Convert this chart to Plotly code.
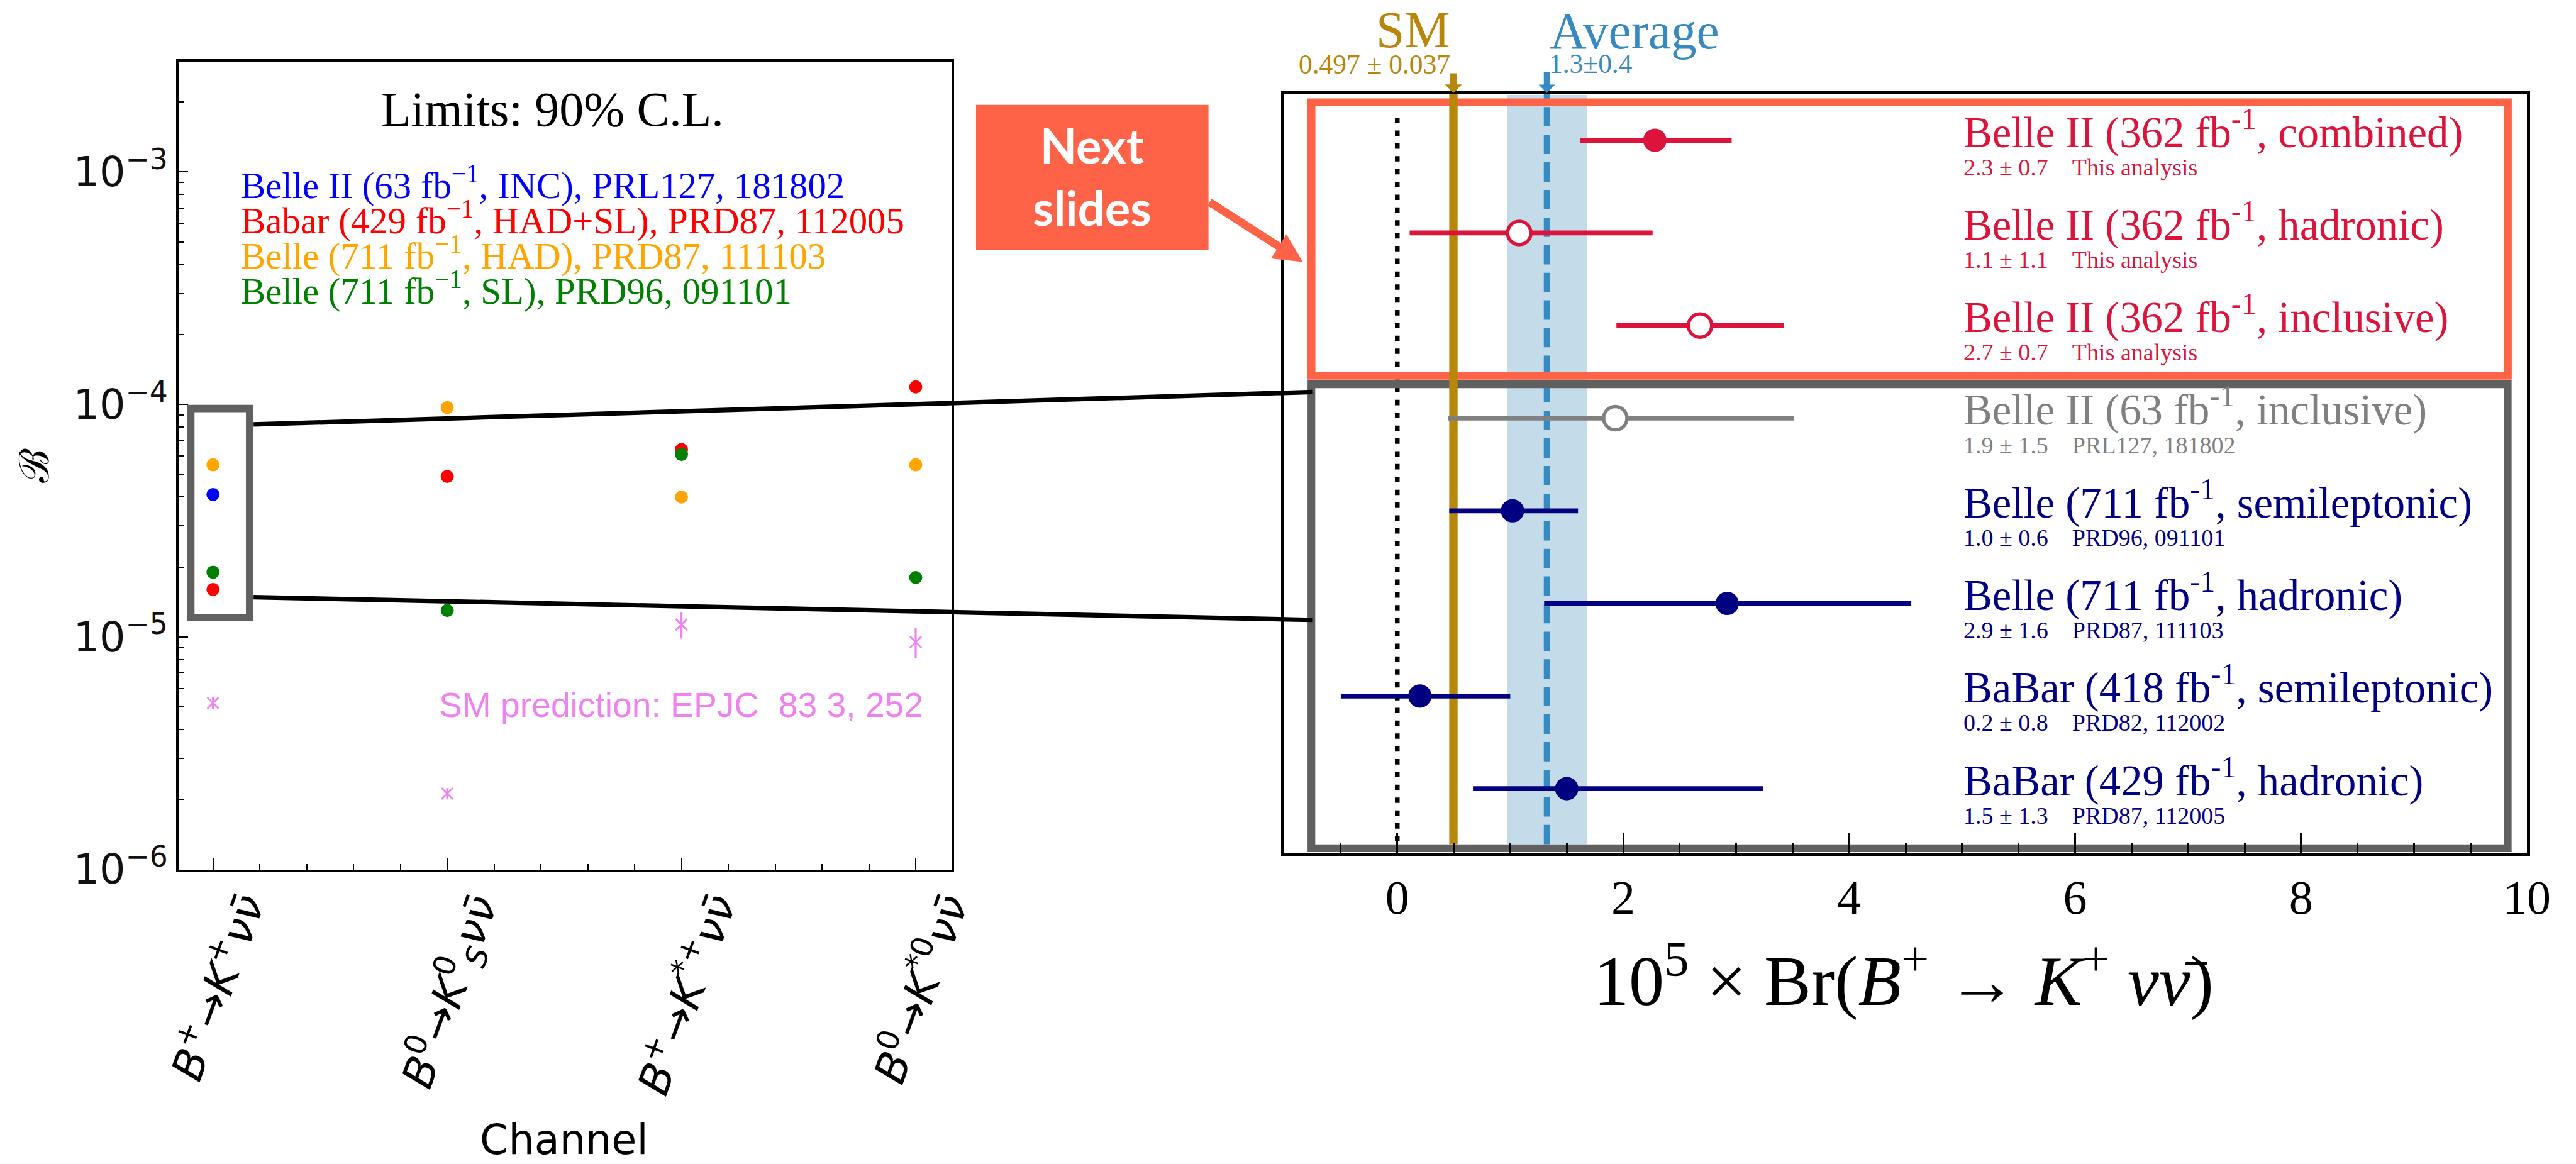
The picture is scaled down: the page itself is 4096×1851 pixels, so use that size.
import plotly.graph_objects as go

REF_W, REF_H = 4521.0, 2043.0
SCALE = 0.905
FIG_W, FIG_H = 4096, 1851


def px(X):
    return X / REF_W


def py(Y):
    return 1.0 - Y / REF_H


def s(v):
    return v * SCALE


# ---------------- data: left panel (90% C.L. limits) ----------------
channel_pos = [0, 1, 2, 3]
channel_ticktext = [
    "<i>B</i><sup>+</sup>→<i>K</i><sup>+</sup><i>νν\u0304</i>",
    "<i>B</i><sup>0</sup>→<i>K</i><sup>0</sup><sub><i>S</i></sub><i>νν\u0304</i>",
    "<i>B</i><sup>+</sup>→<i>K</i><sup>*+</sup><i>νν\u0304</i>",
    "<i>B</i><sup>0</sup>→<i>K</i><sup>*0</sup><i>νν\u0304</i>",
]
limit_belle2_inc = [4.1e-5, None, None, None]
limit_babar = [1.6e-5, 4.9e-5, 6.4e-5, 1.19e-4]
limit_belle_had = [5.5e-5, 9.7e-5, 4.0e-5, 5.5e-5]
limit_belle_sl = [1.9e-5, 1.3e-5, 6.1e-5, 1.8e-5]
sm_pred = [5.2e-6, 2.12e-6, 1.13e-5, 9.5e-6]
sm_pred_err = [0.3e-6, 0.12e-6, 1.45e-6, 1.4e-6]
limit_legend = [
    "Belle II (63 fb<sup>−1</sup>, INC), PRL127, 181802",
    "Babar (429 fb<sup>−1</sup>, HAD+SL), PRD87, 112005",
    "Belle (711 fb<sup>−1</sup>, HAD), PRD87, 111103",
    "Belle (711 fb<sup>−1</sup>, SL), PRD96, 091101",
]
limit_colors = ["#0000FF", "#FF0000", "#FFA500", "#008000"]
y_tickvals = [1e-6, 1e-5, 1e-4, 1e-3]
y_ticktext = ["10<sup>−6</sup>", "10<sup>−5</sup>", "10<sup>−4</sup>", "10<sup>−3</sup>"]

# ---------------- data: right panel (measurements) ----------------
meas_row = [8, 7, 6, 5, 4, 3, 2, 1]
meas_value = [2.28, 1.08, 2.68, 1.93, 1.02, 2.92, 0.20, 1.50]
meas_err_lo = [0.66, 0.97, 0.74, 1.48, 0.56, 1.62, 0.70, 0.83]
meas_err_hi = [0.68, 1.18, 0.74, 1.58, 0.58, 1.63, 0.80, 1.74]
meas_label = [
    "Belle II (362 fb<sup>-1</sup>, combined)",
    "Belle II (362 fb<sup>-1</sup>, hadronic)",
    "Belle II (362 fb<sup>-1</sup>, inclusive)",
    "Belle II (63 fb<sup>-1</sup>, inclusive)",
    "Belle (711 fb<sup>-1</sup>, semileptonic)",
    "Belle (711 fb<sup>-1</sup>, hadronic)",
    "BaBar (418 fb<sup>-1</sup>, semileptonic)",
    "BaBar (429 fb<sup>-1</sup>, hadronic)",
]
meas_summary = ["2.3 ± 0.7", "1.1 ± 1.1", "2.7 ± 0.7", "1.9 ± 1.5",
                "1.0 ± 0.6", "2.9 ± 1.6", "0.2 ± 0.8", "1.5 ± 1.3"]
meas_ref = ["This analysis", "This analysis", "This analysis", "PRL127, 181802",
            "PRD96, 091101", "PRD87, 111103", "PRD82, 112002", "PRD87, 112005"]
meas_color = ["#DC143C", "#DC143C", "#DC143C", "#808080",
              "#000080", "#000080", "#000080", "#000080"]
meas_filled = [True, False, False, False, True, True, True, True]
x2_tickvals = [0, 2, 4, 6, 8, 10]

sm_value = 0.497
sm_text = "0.497 ± 0.037"
avg_value = 1.324
avg_band = [0.971, 1.677]
avg_text = "1.3±0.4"

GOLD = "#B8860B"
AVG = "#368AC0"
BAND = "#C4DCEA"
TOMATO = "#FF6347"
DGRAY = "#606060"
SERIF = "Liberation Serif, Times New Roman, serif"
SANS = "DejaVu Sans, sans-serif"

fig = go.Figure()

# ---- left panel traces
for vals, col in zip([limit_belle2_inc, limit_babar, limit_belle_had, limit_belle_sl], limit_colors):
    fig.add_trace(go.Scatter(
        x=channel_pos, y=vals, mode="markers", xaxis="x", yaxis="y",
        marker=dict(size=s(23), color=col, line=dict(width=0)),
        showlegend=False, hoverinfo="skip"))
fig.add_trace(go.Scatter(
    x=channel_pos, y=sm_pred, mode="markers", xaxis="x", yaxis="y",
    marker=dict(symbol="x-thin", size=s(20), color="violet",
                line=dict(color="violet", width=s(3))),
    error_y=dict(type="data", array=sm_pred_err, color="violet",
                 thickness=s(3.5), width=0),
    showlegend=False, hoverinfo="skip"))

# ---- right panel traces
for i in range(len(meas_row)):
    c = meas_color[i]
    filled = meas_filled[i]
    fig.add_trace(go.Scatter(
        x=[meas_value[i]], y=[meas_row[i]], mode="markers", xaxis="x2", yaxis="y2",
        error_x=dict(type="data", symmetric=False, array=[meas_err_hi[i]],
                     arrayminus=[meas_err_lo[i]], color=c, thickness=s(8.6), width=0),
        marker=dict(size=s(41), color=c if filled else "white",
                    line=dict(color=c, width=0 if filled else s(6))),
        showlegend=False, hoverinfo="skip"))

shapes = []
# right panel decorations (below traces)
shapes.append(dict(type="rect", xref="x2", yref="y2", x0=avg_band[0], x1=avg_band[1],
                   y0=0.40, y1=8.49, fillcolor=BAND, line=dict(width=0), layer="below"))
shapes.append(dict(type="line", xref="x2", yref="y2", x0=avg_value, x1=avg_value,
                   y0=0.40, y1=8.5, line=dict(color=AVG, width=s(10.7), dash="%.1fpx,%.1fpx" % (s(34), s(14.5))),
                   layer="below"))
shapes.append(dict(type="line", xref="x2", yref="y2", x0=0, x1=0, y0=0.43, y1=8.31,
                   line=dict(color="black", width=s(8.3), dash="%.1fpx,%.1fpx" % (s(9.5), s(13))),
                   layer="below"))
shapes.append(dict(type="rect", xref="x2", yref="y2", x0=-0.76, x1=9.83, y0=0.356, y1=5.365,
                   line=dict(color=DGRAY, width=s(13.5)), fillcolor="rgba(0,0,0,0)", layer="below"))
shapes.append(dict(type="rect", xref="x2", yref="y2", x0=-0.76, x1=9.83, y0=5.458, y1=8.41,
                   line=dict(color=TOMATO, width=s(14)), fillcolor="rgba(0,0,0,0)", layer="below"))
shapes.append(dict(type="line", xref="x2", yref="y2", x0=sm_value, x1=sm_value, y0=0.40, y1=8.5,
                   line=dict(color=GOLD, width=s(14.7)), layer="below"))

# left panel zoom box and connectors
shapes.append(dict(type="rect", xref="paper", yref="paper", x0=px(335), x1=px(438),
                   y0=py(1084), y1=py(717), line=dict(color=DGRAY, width=s(12.8)),
                   fillcolor="rgba(0,0,0,0)", layer="above"))
shapes.append(dict(type="line", xref="paper", yref="paper", x0=px(445), y0=py(745),
                   x1=px(2303), y1=py(688), line=dict(color="black", width=s(8)), layer="above"))
shapes.append(dict(type="line", xref="paper", yref="paper", x0=px(445), y0=py(1048),
                   x1=px(2303), y1=py(1088), line=dict(color="black", width=s(8)), layer="above"))
# "Next slides" box
shapes.append(dict(type="rect", xref="paper", yref="paper", x0=px(1713), x1=px(2121),
                   y0=py(439), y1=py(184), fillcolor=TOMATO, line=dict(width=0), layer="above"))

annotations = []


def ann(text, x, y, size, color="black", family=SERIF, xanchor="center", yanchor="middle",
        xref="paper", yref="paper", angle=0, xshift=0):
    annotations.append(dict(text=text, x=x, y=y, xref=xref, yref=yref, showarrow=False,
                            xanchor=xanchor, yanchor=yanchor, textangle=angle, xshift=xshift,
                            font=dict(family=family, size=size, color=color)))


# left panel texts
ann("Limits: 90% C.L.", px(970), py(192), s(86))
for i, (t, c) in enumerate(zip(limit_legend, limit_colors)):
    ann(t, px(420), py(320.5 + 61.8 * i), s(65), color=c, xanchor="left")
ann("SM prediction: EPJC  83 3, 252", px(768), py(1237), s(61), color="violet",
    family="Liberation Sans, Arial, sans-serif", xanchor="left")
ann("Channel", px(990), py(2000), s(72), family=SANS)
ann("ℬ", px(60), py(817), s(72), family="DejaVu Serif, serif", angle=-90)
# rotated channel labels, centred under each category tick
for pos, t in zip(channel_pos, channel_ticktext):
    ann(t, pos, py(1553), s(76), family=SANS, xanchor="center", yanchor="top",
        xref="x", angle=-70, xshift=s(4))

# right panel labels
for i in range(len(meas_row)):
    ann(meas_label[i], 5.0, meas_row[i] + 0.123, s(76), color=meas_color[i],
        xanchor="left", xref="x2", yref="y2")
    ann(meas_summary[i] + "\u00a0\u00a0\u00a0\u00a0" + meas_ref[i], 5.0, meas_row[i] - 0.289, s(42),
        color=meas_color[i], xanchor="left", xref="x2", yref="y2")

# SM / Average headers
ann("SM", 0.48, py(52.5), s(90), color=GOLD, xanchor="right", xref="x2")
ann(sm_text, 0.48, py(113), s(48), color=GOLD, xanchor="right", xref="x2")
ann("Average", 1.34, py(55), s(90), color=AVG, xanchor="left", xref="x2")
ann(avg_text, 1.33, py(112), s(48), color=AVG, xanchor="left", xref="x2")

# right x-axis title
ann("10<sup>5</sup> × Br(<i>B</i><sup>+</sup> → <i>K</i><sup>+</sup> <i>νν\u0304</i>)",
    px(3341), py(1712), s(124))

# Next slides text
ann("<b>Next</b><br><b>slides</b>", px(1917), py(309), s(84), color="white",
    family="Lato, Noto Sans, sans-serif")

# arrows
annotations.append(dict(text="", x=sm_value, y=py(163), xref="x2", yref="paper",
                        showarrow=True, ax=0, ay=-s(36), arrowhead=1, arrowsize=0.45,
                        arrowwidth=s(11), arrowcolor=GOLD))
annotations.append(dict(text="", x=avg_value, y=py(163), xref="x2", yref="paper",
                        showarrow=True, ax=0, ay=-s(38), arrowhead=1, arrowsize=0.45,
                        arrowwidth=s(10.7), arrowcolor=AVG))
aw = s(14)
asz = 0.72
annotations.append(dict(text="", x=px(2295), y=py(465), xref="paper", yref="paper",
                        showarrow=True, ax=s(2121 - 2295), ay=s(353.5 - 465),
                        arrowhead=2, arrowsize=asz, arrowwidth=aw, arrowcolor=TOMATO,
                        standoff=aw * asz * 1.0))

minor_log = [m * 10.0 ** e for e in range(-6, -2) for m in range(2, 10) if m * 10.0 ** e < 2.98e-3]

fig.update_layout(
    width=FIG_W, height=FIG_H,
    margin=dict(l=0, r=0, t=0, b=0),
    paper_bgcolor="white", plot_bgcolor="white",
    showlegend=False,
    shapes=shapes, annotations=annotations,
    xaxis=dict(domain=[px(313), px(1670)], range=[-0.148, 3.153], anchor="y",
               tickmode="array", tickvals=channel_pos, showticklabels=False,
               ticks="inside", ticklen=s(20), tickwidth=s(2.5), tickcolor="black",
               showline=True, linewidth=s(4), linecolor="black", mirror=True,
               showgrid=False, zeroline=False, automargin=False,
               minor=dict(ticks="inside", ticklen=s(9.5), tickwidth=s(2), tickcolor="black",
                          dtick=0.2, tick0=0, showgrid=False)),
    yaxis=dict(domain=[py(1526), py(108)], type="log", range=[-6, -2.525], anchor="x",
               tickmode="array", tickvals=y_tickvals, ticktext=y_ticktext,
               ticks="inside", ticklen=s(17), tickwidth=s(2.5), tickcolor="black",
               showline=True, linewidth=s(4), linecolor="black", mirror=True,
               showgrid=False, zeroline=False, automargin=False,
               tickfont=dict(family=SANS, size=s(72), color="#111111"),
               minor=dict(ticks="inside", ticklen=s(9), tickwidth=s(2), tickcolor="black",
                          tickmode="array", tickvals=minor_log, showgrid=False)),
    xaxis2=dict(domain=[px(2254), px(4435)], range=[-1, 10], anchor="y2",
                tickmode="array", tickvals=x2_tickvals,
                ticks="inside", ticklen=s(36), tickwidth=s(3), tickcolor="black",
                showline=True, linewidth=s(5), linecolor="black", mirror=True,
                showgrid=False, zeroline=False, automargin=False,
                tickfont=dict(family=SERIF, size=s(84), color="black"),
                minor=dict(ticks="inside", ticklen=s(19), tickwidth=s(3), tickcolor="black",
                           dtick=0.5, tick0=0, showgrid=False)),
    yaxis2=dict(domain=[py(1498), py(165)], range=[0.3, 8.5], anchor="x2",
                showticklabels=False, ticks="",
                showline=True, linewidth=s(5), linecolor="black", mirror=True,
                showgrid=False, zeroline=False, automargin=False),
)

fig.write_html("out.html")
